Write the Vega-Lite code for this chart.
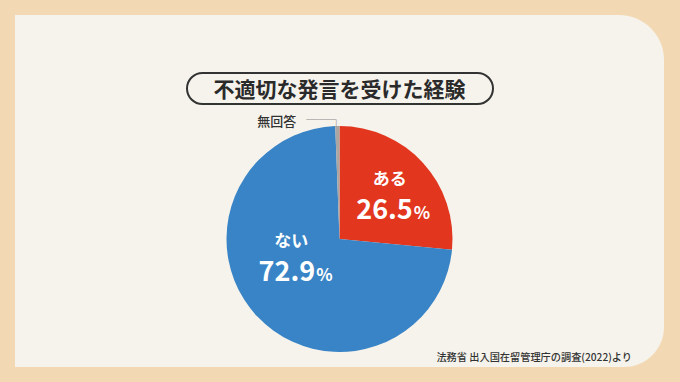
{
  "$schema": "https://vega.github.io/schema/vega-lite/v6.json",
  "width": 680,
  "height": 382,
  "autosize": {"type": "fit", "contains": "padding"},
  "padding": {"left": 15, "top": 15, "right": 16, "bottom": 15},
  "background": "#f3d9b3",
  "config": {"view": {"stroke": null}, "font": "Noto Sans CJK JP"},
  "title": {
    "text": "不適切な発言を受けた経験",
    "font": "Noto Sans CJK JP",
    "fontSize": 21,
    "fontWeight": "bold",
    "color": "#2a2a2a",
    "anchor": "middle",
    "frame": "group",
    "baseline": "middle",
    "offset": -97
  },
  "data": {
    "values": [
      {"answer": "ある", "pct": 26.5, "order": 1},
      {"answer": "ない", "pct": 72.9, "order": 2},
      {"answer": "無回答", "pct": 0.6, "order": 3}
    ]
  },
  "layer": [
    {
      "data": {"values": [{}]},
      "mark": {"type": "rect", "color": "#f6f3ec", "cornerRadiusTopRight": 45, "cornerRadiusBottomRight": 40},
      "encoding": {}
    },
    {
      "data": {"values": [{}]},
      "mark": {
        "type": "point",
        "shape": "M -137 -118 L 138 -118 A 15.5 15.5 0 0 1 138 -87 L -137 -87 A 15.5 15.5 0 0 1 -137 -118 Z",
        "size": 4,
        "filled": false,
        "stroke": "#333333",
        "strokeWidth": 2,
        "opacity": 1
      },
      "encoding": {}
    },
    {
      "mark": {"type": "arc", "outerRadius": 113, "yOffset": 48},
      "encoding": {
        "theta": {"field": "pct", "type": "quantitative", "stack": true},
        "order": {"field": "order", "type": "quantitative"},
        "color": {
          "field": "answer",
          "type": "nominal",
          "scale": {"domain": ["ある", "ない", "無回答"], "range": ["#e2361f", "#3884c6", "#aaa6a3"]},
          "legend": null
        }
      }
    },
    {
      "mark": {"type": "text", "radius": 68, "yOffset": 48, "dy": -13, "fontSize": 17, "fontWeight": "bold", "color": "#ffffff", "baseline": "middle"},
      "encoding": {
        "theta": {"field": "pct", "type": "quantitative", "stack": true},
        "order": {"field": "order", "type": "quantitative"},
        "text": {"condition": {"test": "datum.answer === 'ある'", "field": "answer", "type": "nominal"}, "value": ""}
      }
    },
    {
      "mark": {"type": "text", "radius": 68, "yOffset": 48, "dx": 23, "dy": 26, "align": "right", "fontSize": 27, "fontWeight": "bold", "color": "#ffffff", "baseline": "alphabetic"},
      "encoding": {
        "theta": {"field": "pct", "type": "quantitative", "stack": true},
        "order": {"field": "order", "type": "quantitative"},
        "text": {"condition": {"test": "datum.answer === 'ある'", "field": "pct", "type": "quantitative", "format": ".1f"}, "value": ""}
      }
    },
    {
      "mark": {"type": "text", "radius": 68, "yOffset": 48, "dx": 24, "dy": 26, "align": "left", "fontSize": 17, "fontWeight": "bold", "color": "#ffffff", "baseline": "alphabetic"},
      "encoding": {
        "theta": {"field": "pct", "type": "quantitative", "stack": true},
        "order": {"field": "order", "type": "quantitative"},
        "text": {"condition": {"test": "datum.answer === 'ある'", "value": "%"}, "value": ""}
      }
    },
    {
      "mark": {"type": "text", "radius": 50, "yOffset": 48, "dx": -12, "dy": -31, "fontSize": 17, "fontWeight": "bold", "color": "#ffffff", "baseline": "middle"},
      "encoding": {
        "theta": {"field": "pct", "type": "quantitative", "stack": true},
        "order": {"field": "order", "type": "quantitative"},
        "text": {"condition": {"test": "datum.answer === 'ない'", "field": "answer", "type": "nominal"}, "value": ""}
      }
    },
    {
      "mark": {"type": "text", "radius": 50, "yOffset": 48, "dx": 12, "dy": 8, "align": "right", "fontSize": 27, "fontWeight": "bold", "color": "#ffffff", "baseline": "alphabetic"},
      "encoding": {
        "theta": {"field": "pct", "type": "quantitative", "stack": true},
        "order": {"field": "order", "type": "quantitative"},
        "text": {"condition": {"test": "datum.answer === 'ない'", "field": "pct", "type": "quantitative", "format": ".1f"}, "value": ""}
      }
    },
    {
      "mark": {"type": "text", "radius": 50, "yOffset": 48, "dx": 13, "dy": 8, "align": "left", "fontSize": 17, "fontWeight": "bold", "color": "#ffffff", "baseline": "alphabetic"},
      "encoding": {
        "theta": {"field": "pct", "type": "quantitative", "stack": true},
        "order": {"field": "order", "type": "quantitative"},
        "text": {"condition": {"test": "datum.answer === 'ない'", "value": "%"}, "value": ""}
      }
    },
    {
      "mark": {"type": "text", "radius": 118, "yOffset": 48, "dx": -41, "dy": 1, "align": "right", "fontSize": 13, "fontWeight": 500, "color": "#333333", "baseline": "middle"},
      "encoding": {
        "theta": {"field": "pct", "type": "quantitative", "stack": true},
        "order": {"field": "order", "type": "quantitative"},
        "text": {"condition": {"test": "datum.answer === '無回答'", "field": "answer", "type": "nominal"}, "value": ""}
      }
    },
    {
      "mark": {"type": "text", "radius": 118, "yOffset": 48, "dx": 5, "dy": 0, "align": "right", "fontSize": 12, "color": "#8a8a8a", "baseline": "middle"},
      "encoding": {
        "theta": {"field": "pct", "type": "quantitative", "stack": true},
        "order": {"field": "order", "type": "quantitative"},
        "text": {"condition": {"test": "datum.answer === '無回答'", "value": "──┐"}, "value": ""}
      }
    },
    {
      "data": {"values": [{}]},
      "mark": {"type": "text", "text": "法務省 出入国在留管理庁の調査(2022)より", "align": "right", "baseline": "middle", "dx": -32, "dy": -9, "fontSize": 10.2, "fontWeight": 500, "color": "#333333"},
      "encoding": {"x": {"value": "width"}, "y": {"value": "height"}}
    }
  ]
}
